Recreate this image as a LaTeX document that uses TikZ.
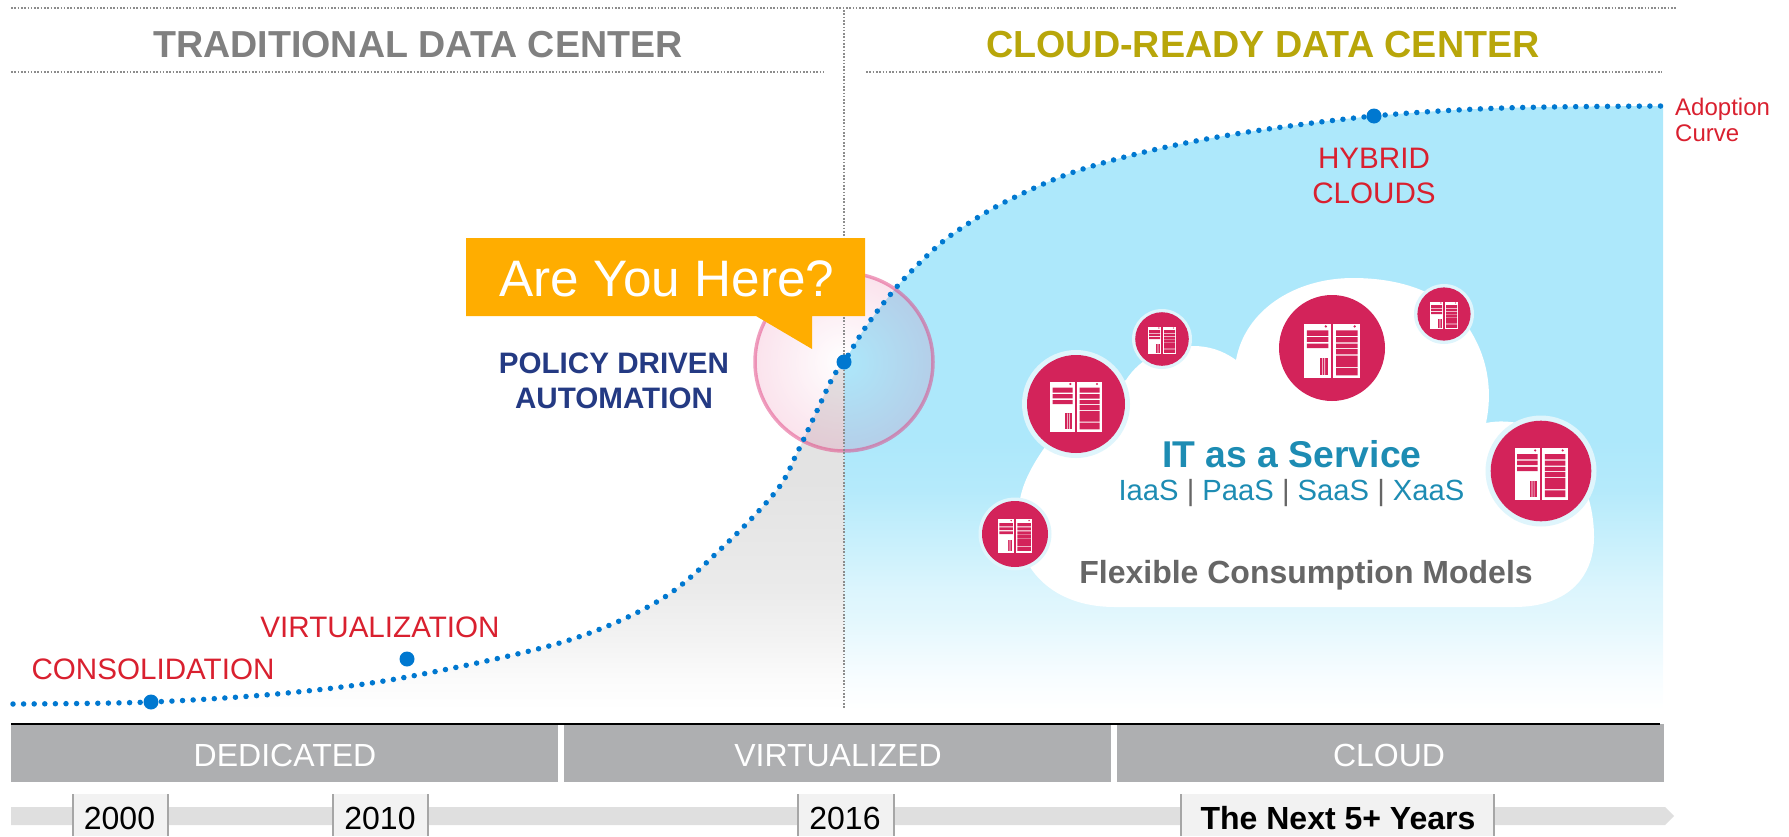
\documentclass[tikz,border=0pt]{standalone}
\usepackage{fontspec}
\setmainfont{Liberation Sans}
\definecolor{curveblue}{HTML}{0078D0}
\definecolor{redlab}{HTML}{D9202F}
\definecolor{bandgray}{HTML}{AEAFB1}
\definecolor{skyblue}{HTML}{ADE8FB}
\definecolor{magenta1}{HTML}{D3235A}
\definecolor{halo}{HTML}{DFF5FC}
\definecolor{teal1}{HTML}{1D8CB3}
\definecolor{gold1}{HTML}{B8A60A}
\definecolor{navy1}{HTML}{243A83}
\definecolor{orange1}{HTML}{FFAD00}
\definecolor{ringpink}{HTML}{E04080}
\definecolor{bfa}{HTML}{F8FDFF}
\definecolor{bfb}{HTML}{EEFAFE}
\definecolor{bfc}{HTML}{E3F7FD}
\definecolor{bfd}{HTML}{DCF5FD}
\definecolor{bfe}{HTML}{CCF1FC}
\definecolor{bff}{HTML}{B5EAFB}
\definecolor{gfa}{HTML}{E3E3E3}
\definecolor{gfb}{HTML}{EBEBEB}
\definecolor{gfc}{HTML}{F3F3F3}
\definecolor{gfd}{HTML}{FBFBFB}
\pgfdeclareverticalshading{bluefade}{100bp}{
 color(0bp)=(white); color(25bp)=(white); color(27.5bp)=(bfa);
 color(30bp)=(bfb); color(32.5bp)=(bfc); color(34.9bp)=(bfd); color(38.2bp)=(bfe);
 color(43.2bp)=(bff); color(47.4bp)=(skyblue); color(100bp)=(skyblue)}
\pgfdeclareverticalshading{grayfade}{100bp}{
 color(0bp)=(white); color(25bp)=(white); color(29.3bp)=(gfd); color(35bp)=(gfc);
 color(42.1bp)=(gfb); color(57.9bp)=(gfa); color(100bp)=(gfa)}
\usetikzlibrary{fadings}
\tikzfading[name=ringfade, inner color=transparent!100, outer color=transparent!0]
\newcommand{\fs}[1]{\fontsize{#1}{#1}\selectfont}
\newcommand{\adoptionpath}{plot[smooth,tension=.55] coordinates{(13,704) (151,702) (287,693) (407,677) (563,642) (660,600) (725,545) (777,490) (797,453) (815,415) (833,377) (844,362) (863,331) (882,305) (902,281) (932,251) (957,231) (1003,203) (1071,173) (1153,150) (1248,132) (1374,116) (1503,108) (1663,106)}}
\tikzset{
 tx/.style={inner sep=0pt,anchor=base,align=center},
 rule/.style={draw=black!45,line width=1.8pt,dash pattern=on 1.6pt off 1.7pt},
 band/.style={fill=bandgray,draw=none},
 bandtext/.style={tx,white,font=\fs{32}},
 yearbox/.style={fill=white!95!black,draw=none},
 yeartext/.style={tx,black,font=\fs{32}},
 bigdot/.style={fill=curveblue,draw=none},
 redtext/.style={tx,redlab,font=\fs{29.6}},
 server/.pic={
  \fill[white] (-25.7,-22.3) rectangle (-1.3,27.7);
  \fill[white] (1.3,-22.3) rectangle (26,27.7);
  \fill[magenta1] (-23.3,-16.3) rectangle (-3.3,-11.3)
    (-23.3,-10) rectangle (-3.3,-5.7) (-23.3,-4) rectangle (-3.3,0);
  \fill[magenta1] (-5.7,-20) circle (1.2) (21,-20) circle (1.2);
  \fill[magenta1] (-10.7,9.3) rectangle (-4,25.3);
  \fill[white] (-9,9.3) rectangle (-8.4,25.3) (-7,9.3) rectangle (-6.4,25.3);
  \fill[magenta1] (3.7,-16.3) rectangle (23.7,-11.3) (3.7,-10) rectangle (23.7,-5.3)
    (3.7,-4) rectangle (23.7,0) (3.7,1) rectangle (23.7,6)
    (3.7,7) rectangle (23.7,17.7) (3.7,18.7) rectangle (23.7,25.3);
 }
}
\begin{document}
\begin{tikzpicture}[x=1pt,y=-1pt]
\useasboundingbox (0,0) rectangle (1789,836);
% regions under the curve
\begin{scope}
 \clip \adoptionpath -- (1663,710) -- (13,710) -- cycle;
 \shade[shading=grayfade] (13,360) rectangle (844,710);
 \shade[shading=bluefade] (844,106) rectangle (1663,710);
\end{scope}
% magnifier ring
\fill[ringpink,fill opacity=.15,path fading=ringfade] (844,362) circle (89);
\draw[ringpink,draw opacity=.5,line width=3.5pt] (844,362) circle (89);
% rules
\draw[rule] (11,8) -- (1676,8);
\draw[rule] (11,72) -- (824,72);
\draw[rule] (866,72) -- (1662,72);
\draw[rule] (844,10) -- (844,708);
% curve
\draw[curveblue,line width=5.5pt,line cap=round,dash pattern=on 0pt off 10.6pt] \adoptionpath;
\fill[bigdot] (151,702) circle (7.5);
\fill[bigdot] (407,659) circle (7.5);
\fill[bigdot] (844,362) circle (7.5);
\fill[bigdot] (1374,116) circle (7.5);
% callout
\fill[orange1] (466,238) -- (865,238) -- (865,316) -- (812,316) -- (812,349) -- (756,316) -- (466,316) -- cycle;
\node[tx,white,font=\fs{51.3}] (here) at (667,296) {Are You Here?};
% titles
\node[tx,black!50,font=\bfseries\fs{37.6}] (tradtitle) at (418,57) {TRADITIONAL DATA CENTER};
\node[tx,gold1,font=\bfseries\fs{37.7}] (cloudtitle) at (1263,57) {CLOUD-READY DATA CENTER};
% labels
\node[redtext] (cons) at (153,679) {CONSOLIDATION};
\node[redtext] (virt) at (380,637) {VIRTUALIZATION};
\node[redtext] (hyb1) at (1374,168) {HYBRID};
\node[redtext] (hyb2) at (1374,203) {CLOUDS};
\node[tx,redlab,font=\fs{24},anchor=base west] (ad1) at (1675,115) {Adoption};
\node[tx,redlab,font=\fs{24},anchor=base west] (ad2) at (1675,141) {Curve};
\node[tx,navy1,font=\bfseries\fs{29.6}] (pol1) at (614,373) {POLICY DRIVEN};
\node[tx,navy1,font=\bfseries\fs{29.6}] (pol2) at (614,408) {AUTOMATION};
% cloud
\fill[white] (1115,607) -- (1514,607)
 .. controls (1570,607) and (1594,575) .. (1594,537)
 .. controls (1594,500) and (1580,470) .. (1560,445)
 .. controls (1540,425) and (1510,418) .. (1486,423)
 .. controls (1492,395) and (1490,360) .. (1468,327)
 .. controls (1445,292) and (1400,278) .. (1353,278)
 .. controls (1295,278) and (1245,310) .. (1236,360)
 .. controls (1222,350) and (1208,346) .. (1193,346)
 .. controls (1165,346) and (1140,358) .. (1126,380)
 .. controls (1090,400) and (1060,425) .. (1045,447)
 .. controls (1030,468) and (1019,490) .. (1019,510)
 .. controls (1019,540) and (1025,560) .. (1032,570)
 .. controls (1050,595) and (1080,607) .. (1115,607) -- cycle;
% server circles
\fill[halo] (1076,404) circle (54);
\fill[magenta1] (1076,404) circle (49);
\pic at (1076,404) {server};
\fill[halo] (1162,339) circle (30);
\fill[magenta1] (1162,339) circle (26.8);
\pic[scale=.55] at (1162,339) {server};
\fill[magenta1] (1332,348) circle (53);
\pic[scale=1.08] at (1332,348) {server};
\fill[halo] (1444,314) circle (30);
\fill[magenta1] (1444,314) circle (26.6);
\pic[scale=.55] at (1444,314) {server};
\fill[halo] (1541,471) circle (55.5);
\fill[magenta1] (1541,471) circle (50.3);
\pic[scale=1.03] at (1541,471) {server};
\fill[halo] (1015,534) circle (36.5);
\fill[magenta1] (1015,534) circle (33);
\pic[scale=.67] at (1015,534) {server};
% cloud text
\node[tx,teal1,font=\bfseries\fs{37.3}] (itaas) at (1292,467) {IT as a Service};
\node[tx,teal1,font=\fs{29.2}] (aas) at (1291.5,500) {IaaS \textcolor{black!60}{|} PaaS \textcolor{black!60}{|} SaaS \textcolor{black!60}{|} XaaS};
\node[tx,black!60,font=\bfseries\fs{32}] (flex) at (1306,583) {Flexible Consumption Models};
% bands
\fill[band] (11,725) rectangle (558,782);
\fill[band] (564,725) rectangle (1111,782);
\fill[band] (1117,724) rectangle (1664,782);
\draw[black,line width=2pt] (11,724) -- (1660,724);
\node[bandtext] (dedi) at (285,766) {DEDICATED};
\node[bandtext] (virtd) at (838,766) {VIRTUALIZED};
\node[bandtext] (clou) at (1389,766) {CLOUD};
% timeline
\fill[black!12.5] (11,807) -- (1665,807) -- (1674,816) -- (1665,825) -- (11,825) -- cycle;
\foreach \a/\b in {73/168,333/428,798/894,1181/1494}{
 \fill[yearbox] (\a,794) rectangle (\b,836);
 \draw[black!35,line width=1.5pt] (\a,794) -- (\a,836) (\b,794) -- (\b,836);
}
\node[yeartext] (y2000) at (119.5,829) {2000};
\node[yeartext] (y2010) at (380,829) {2010};
\node[yeartext] (y2016) at (845,829) {2016};
\node[yeartext,font=\bfseries\fs{32}] (ynext) at (1338,829) {The Next 5+ Years};
\end{tikzpicture}
\end{document}
